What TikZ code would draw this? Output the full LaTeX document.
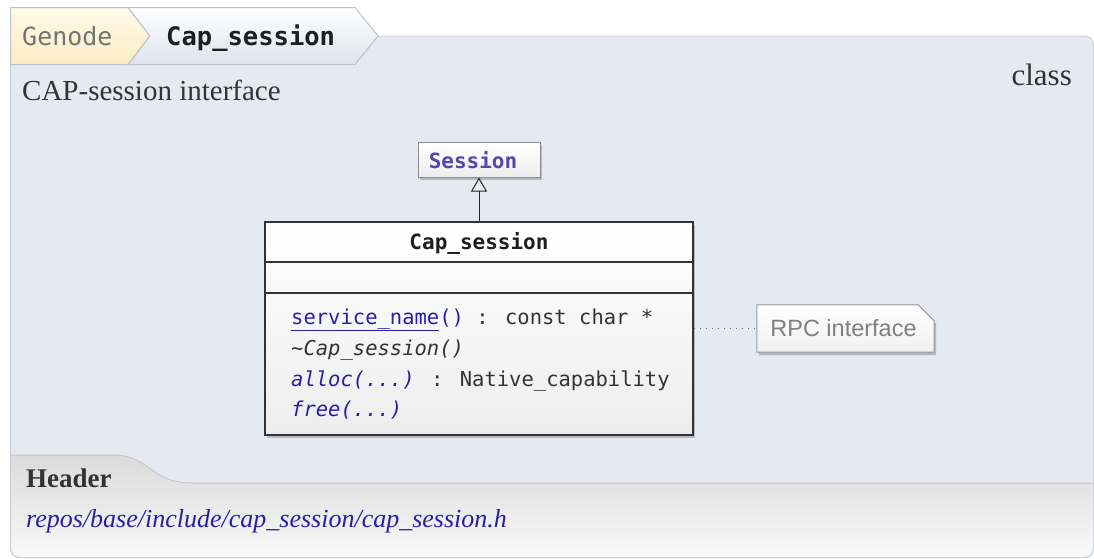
\documentclass[tikz,border=0pt]{standalone}
\usepackage{fontspec}
\setmainfont{Liberation Serif}
\newfontfamily\monof{DejaVu Sans Mono}
\newfontfamily\sansf{Liberation Sans}
\usetikzlibrary{shadows,arrows.meta}
\definecolor{panelbg}{RGB}{229,233,241}
\definecolor{panelline}{RGB}{206,210,218}
\definecolor{txt}{RGB}{51,51,51}
\definecolor{linkc}{RGB}{42,30,165}
\definecolor{sessc}{RGB}{88,70,172}
\definecolor{crumbline}{RGB}{190,194,200}
\definecolor{yel1}{RGB}{255,250,232}
\definecolor{yel2}{RGB}{250,236,196}
\definecolor{cap2}{RGB}{222,228,236}
\definecolor{hdr1}{RGB}{218,218,218}
\definecolor{hdr2}{RGB}{249,249,249}
\tikzset{
  boxshadow/.style={drop shadow={shadow xshift=2pt,shadow yshift=-3pt,opacity=.3,fill=black!70}},
  umlbox/.style={boxshadow,top color=white,bottom color=black!7,inner sep=0pt},
  monotxt/.style={font=\monof\fontsize{20.5}{25}\selectfont,text=txt,inner sep=0pt,anchor=base west},
  serifbig/.style={font=\fontsize{29}{34}\selectfont,text=txt,inner sep=0pt},
}
\begin{document}
\begin{tikzpicture}[x=1pt,y=-1pt]
\useasboundingbox (0,0) rectangle (1094,558);
% panel
\path[fill=panelbg,draw=panelline,line width=1pt,rounded corners=9pt]
  (10.5,36) -- (1093.5,36) -- (1093.5,557.5) -- (10.5,557.5) -- cycle;
% header section
\path[top color=hdr1,bottom color=hdr2]
  (11,455) -- (113,455) .. controls (150,455) and (150,483) .. (192,483)
  -- (1093,483) [rounded corners=9pt] -- (1093,557) -- (11,557) [sharp corners] -- cycle;
\draw[panelline,line width=1pt,rounded corners=9pt] (10.5,455) -- (10.5,557.5) -- (1093.5,557.5) -- (1093.5,470);
\draw[black!22,line width=1pt] (10.5,455) -- (113,455) .. controls (150,455) and (150,483) .. (192,483) -- (1093.5,483);
% breadcrumb
\path[top color=yel1,bottom color=yel2,draw=crumbline,line width=1pt]
  (10.5,7.5) -- (128,7.5) -- (150,36) -- (128,64.5) -- (10.5,64.5) -- cycle;
\path[top color=white,bottom color=cap2,draw=crumbline,line width=1pt]
  (128,7.5) -- (355,7.5) -- (378,36) -- (355,64.5) -- (128,64.5) -- (150,36) -- cycle;
\node[font=\monof\fontsize{25}{30}\selectfont,text=black!55,inner sep=0pt,anchor=base west] (genode) at (22,45) {Genode};
\node[font=\monof\bfseries\fontsize{25.5}{30}\selectfont,text=black!88,inner sep=0pt,anchor=base west] (crumb) at (166,45) {Cap\_session};
% titles
\node[serifbig,anchor=base west] (desc) at (22,100) {CAP-session interface};
\node[serifbig,font=\fontsize{31}{36}\selectfont,anchor=base east] (kind) at (1072,85) {class};
% Session box
\node[umlbox,draw=black!45,line width=1pt,minimum width=122pt,minimum height=35pt] (session) at (479,159.5) {};
\node[font=\monof\bfseries\fontsize{21}{25}\selectfont,text=sessc,inner sep=0pt,anchor=base] (sesslabel) at (473,168) {Session};
% class box
\node[umlbox,draw=black!80,line width=1.2pt,minimum width=428pt,minimum height=213pt] (cls) at (479,328.5) {};
\draw[black!80,line width=1.2pt] (265,262) -- (693,262);
\draw[black!80,line width=1.2pt] (265,293) -- (693,293);
\node[monotxt,font=\monof\bfseries\fontsize{21}{25}\selectfont,text=black!88,anchor=base] (clstitle) at (479,249) {Cap\_session};
\node[monotxt] (m1) at (291,324) {\textcolor{linkc}{\underline{service\_name}()} : const char *};
\node[monotxt] (m2) at (291,355) {\itshape\char"7E Cap\_session()};
\node[monotxt] (m3) at (291,386) {\textcolor{linkc}{\itshape alloc(...)} : Native\_capability};
\node[monotxt] (m4) at (291,416) {\textcolor{linkc}{\itshape free(...)}};
% inheritance
\draw[black!85,line width=1pt,-{Triangle[open,length=14pt,width=16pt,line width=1pt]}] (cls.north) -- (session.south);
% note
\node[minimum width=177pt,minimum height=47pt,inner sep=0pt] (rpc) at (845.5,328.5) {};
\path[boxshadow,top color=white,bottom color=black!6,draw=black!40,line width=1pt]
  (rpc.north west) -- ([xshift=-16pt]rpc.north east) -- ([yshift=-16pt]rpc.north east)
  -- (rpc.south east) -- (rpc.south west) -- cycle;
\node[font=\sansf\fontsize{23.5}{27}\selectfont,text=black!50,inner sep=0pt] (rpclabel) at ([xshift=-2pt]rpc.center) {RPC interface};
\draw[black!55,line width=1.4pt,dash pattern=on 1.4pt off 4.6pt] (cls.east) -- (rpc.west);
% header text
\node[font=\bfseries\fontsize{27}{32}\selectfont,text=txt,inner sep=0pt,anchor=base west] (header) at (26,487) {Header};
\node[font=\itshape\fontsize{26}{31}\selectfont,text=linkc,inner sep=0pt,anchor=base west] (path) at (26,527) {repos/base/include/cap\_session/cap\_session.h};
\end{tikzpicture}
\end{document}
